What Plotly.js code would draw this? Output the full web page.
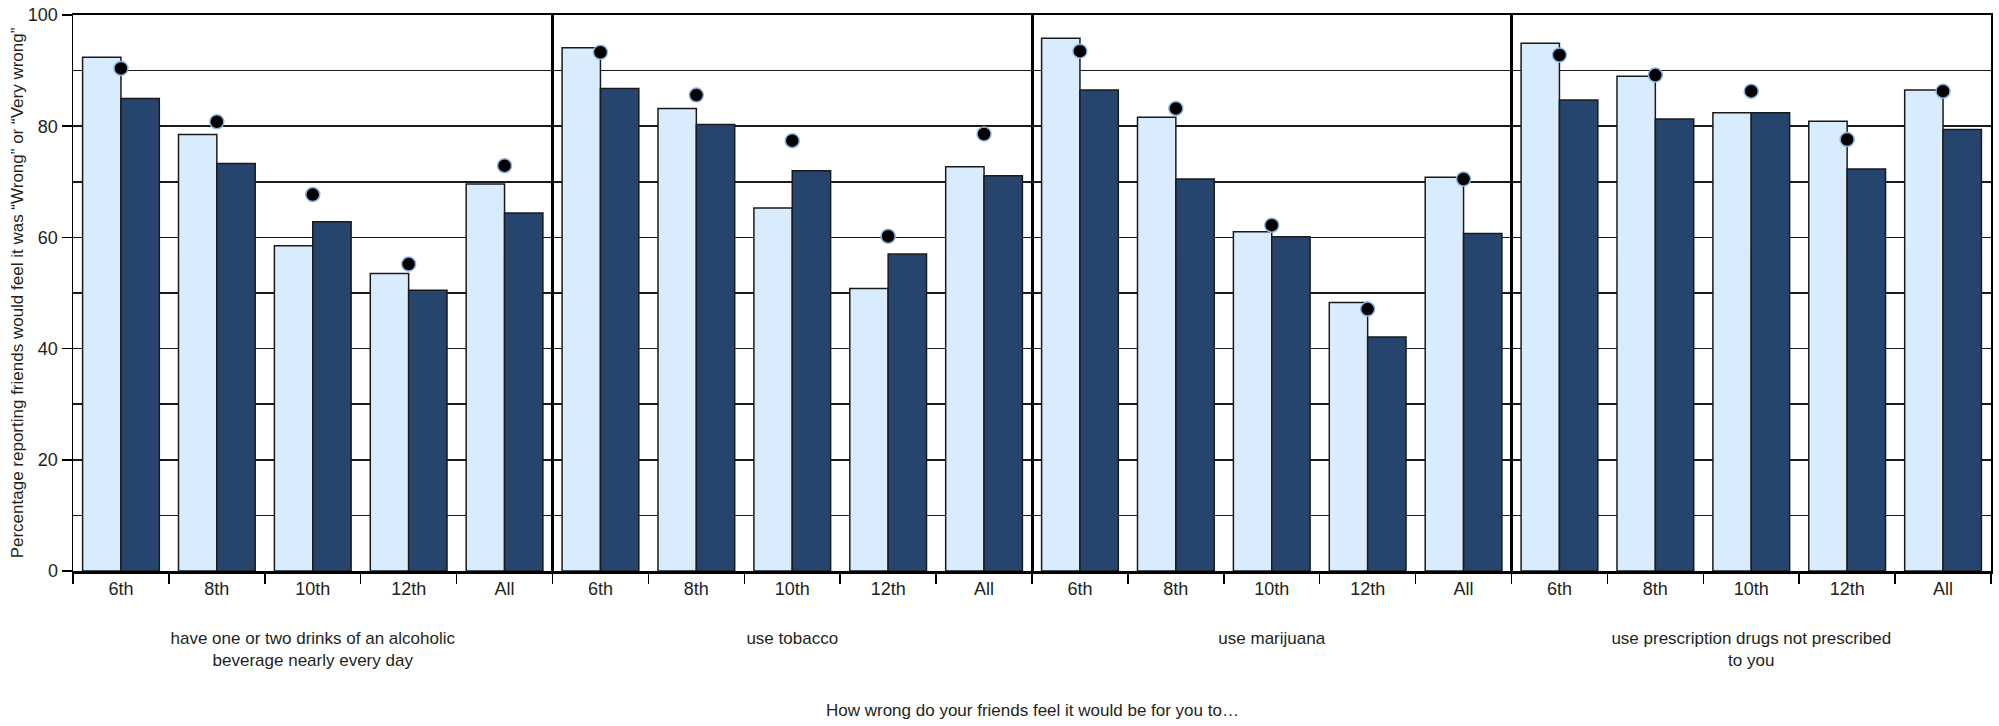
<!DOCTYPE html>
<html>
<head>
<meta charset="utf-8">
<script src="https://cdn.plot.ly/plotly-3.0.1.min.js"></script>
<style>html,body{margin:0;padding:0;background:#fff;}</style>
</head>
<body>
<div id="chart" style="width:1999px;height:726px;"></div>
<script>
// ---- data ----
const grades = ['6th', '8th', '10th', '12th', 'All'];
const panelTitles = [
  'have one or two drinks of an alcoholic<br>beverage nearly every day',
  'use tobacco',
  'use marijuana',
  'use prescription drugs not prescribed<br>to you'
];
const alcoholLight = [92.4, 78.5, 58.5, 53.5, 69.6];
const alcoholDark  = [85.0, 73.3, 62.8, 50.5, 64.4];
const alcoholDot   = [90.4, 80.8, 67.7, 55.2, 72.9];
const tobaccoLight = [94.1, 83.2, 65.3, 50.8, 72.7];
const tobaccoDark  = [86.8, 80.3, 72.0, 57.0, 71.1];
const tobaccoDot   = [93.3, 85.6, 77.4, 60.2, 78.6];
const marijuanaLight = [95.8, 81.6, 61.0, 48.3, 70.8];
const marijuanaDark  = [86.5, 70.5, 60.1, 42.1, 60.7];
const marijuanaDot   = [93.5, 83.2, 62.2, 47.1, 70.5];
const rxLight = [94.9, 89.0, 82.4, 80.9, 86.5];
const rxDark  = [84.7, 81.3, 82.4, 72.3, 79.4];
const rxDot   = [92.8, 89.2, 86.3, 77.6, 86.3];
const yTicks = [0, 20, 40, 60, 80, 100];

const lightSeries = [alcoholLight, tobaccoLight, marijuanaLight, rxLight];
const darkSeries  = [alcoholDark, tobaccoDark, marijuanaDark, rxDark];
const dotSeries   = [alcoholDot, tobaccoDot, marijuanaDot, rxDot];

// ---- style ----
const FONT = '"Liberation Sans", Arial, sans-serif';
const TXT = '#231f20';
const LIGHT = '#d9ecfd';
const DARK = '#26456e';
const EDGE = '#1a1a1a';

const traces = [];
const layout = {
  width: 1999, height: 726,
  margin: {l: 73, r: 8, t: 15, b: 155},
  paper_bgcolor: '#fff', plot_bgcolor: '#fff',
  barmode: 'group', bargap: 0.2, bargroupgap: 0,
  showlegend: false,
  font: {family: FONT, size: 18, color: TXT},
  annotations: [{
    text: 'How wrong do your friends feel it would be for you to\u2026',
    xref: 'paper', yref: 'paper', x: 0.5, y: -0.25,
    xanchor: 'center', yanchor: 'middle', showarrow: false,
    font: {family: FONT, size: 17, color: TXT}
  }]
};

for (let p = 0; p < 4; p++) {
  const sfx = p === 0 ? '' : String(p + 1);
  const xa = 'x' + sfx, ya = 'y' + sfx;
  traces.push({
    type: 'bar', x: grades, y: lightSeries[p], xaxis: xa, yaxis: ya,
    marker: {color: LIGHT, line: {color: EDGE, width: 1.5}}, offsetgroup: 'a', hoverinfo: 'y'
  });
  traces.push({
    type: 'bar', x: grades, y: darkSeries[p], xaxis: xa, yaxis: ya,
    marker: {color: DARK, line: {color: EDGE, width: 1.5}}, offsetgroup: 'b', hoverinfo: 'y'
  });
  traces.push({
    type: 'scatter', mode: 'markers', x: grades, y: dotSeries[p], xaxis: xa, yaxis: ya,
    marker: {color: '#000', size: 14, line: {color: '#8fb3de', width: 1.5}}, hoverinfo: 'y'
  });
  layout['xaxis' + sfx] = {
    domain: [p / 4, (p + 1) / 4], anchor: ya,
    type: 'category', range: [-0.5, 4.5],
    showline: true, linecolor: '#000', linewidth: 2.5, mirror: true,
    ticks: 'outside', tickson: 'boundaries', ticklen: 10, tickwidth: 1.5, tickcolor: '#000',
    showgrid: false, zeroline: false,
    tickfont: {family: FONT, size: 18, color: TXT},
    title: {text: panelTitles[p], standoff: 34, font: {family: FONT, size: 17, color: TXT}}
  };
  layout['yaxis' + sfx] = {
    domain: [0, 1], anchor: xa, range: [0, 100],
    tickvals: yTicks, ticktext: yTicks.map(String),
    showticklabels: p === 0, ticks: p === 0 ? 'outside' : '', ticklen: 10, tickwidth: 1.5, tickcolor: '#000',
    showline: true, linecolor: '#000', linewidth: 1.5, mirror: true,
    showgrid: true, gridcolor: '#1a1a1a', gridwidth: 1.5, zeroline: false,
    minor: {dtick: 10, tick0: 0, showgrid: true, gridcolor: '#1a1a1a', gridwidth: 1.5, ticks: ''},
    tickfont: {family: FONT, size: 18, color: TXT},
    layer: 'below traces'
  };
  if (p > 0) layout['yaxis' + sfx].matches = 'y';
}
layout.yaxis.title = {
  text: 'Percentage reporting friends would feel it was \u201CWrong\u201D or \u201CVery wrong\u201D',
  standoff: 0, font: {family: FONT, size: 17, color: TXT}
};

Plotly.newPlot('chart', traces, layout, {displayModeBar: false, staticPlot: true});
</script>
</body>
</html>
